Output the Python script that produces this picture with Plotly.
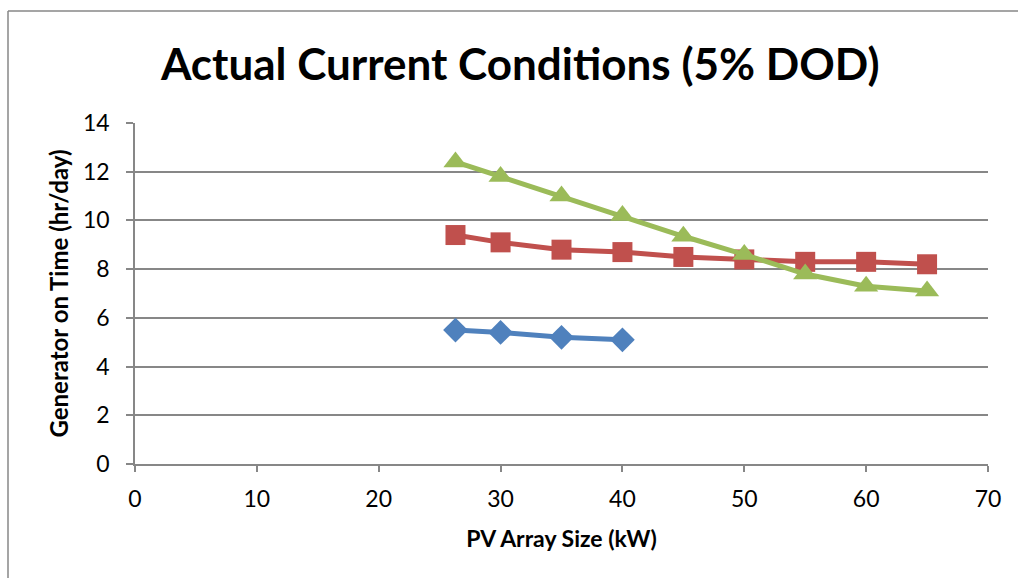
import plotly.graph_objects as go

pv_blue = [26.3, 30, 35, 40]
gen_blue = [5.5, 5.4, 5.2, 5.1]
pv_all = [26.3, 30, 35, 40, 45, 50, 55, 60, 65]
gen_red = [9.4, 9.1, 8.8, 8.7, 8.5, 8.4, 8.3, 8.3, 8.2]
gen_green = [12.4, 11.8, 11.0, 10.2, 9.35, 8.6, 7.8, 7.3, 7.1]

FONT = "Lato"

fig = go.Figure()
fig.add_trace(go.Scatter(x=pv_blue, y=gen_blue, mode="lines+markers",
                         line=dict(color="#4F81BD", width=5),
                         marker=dict(symbol="diamond", size=19, color="#4F81BD")))
fig.add_trace(go.Scatter(x=pv_all, y=gen_red, mode="lines+markers",
                         line=dict(color="#C0504D", width=5),
                         marker=dict(symbol="square", size=20, color="#C0504D")))
fig.add_trace(go.Scatter(x=pv_all, y=gen_green, mode="lines+markers",
                         line=dict(color="#9BBB59", width=5),
                         marker=dict(symbol="triangle-up", size=21, color="#9BBB59")))

fig.update_layout(
    width=1018, height=578,
    margin=dict(l=135, r=30, t=123, b=114),
    paper_bgcolor="white", plot_bgcolor="white",
    showlegend=False,
    font=dict(family=FONT, color="black"),
    title=dict(text="<b>Actual Current Conditions (5% DOD)</b>",
               font=dict(size=44, family=FONT, color="black"),
               x=0.511, xanchor="center", y=0.888, yanchor="middle"),
    xaxis=dict(range=[0, 70], tickvals=list(range(0, 71, 10)),
               showgrid=False, zeroline=False,
               showline=True, linecolor="#878787", linewidth=1.5,
               ticks="outside", ticklen=6, tickcolor="#878787", tickwidth=1.5,
               ticklabelstandoff=8,
               tickfont=dict(size=23, family=FONT),
               title=dict(text="<b>PV Array Size (kW)</b>", font=dict(size=23, family=FONT), standoff=20)),
    yaxis=dict(range=[0, 14], tickvals=list(range(0, 15, 2)),
               showgrid=True, gridcolor="#878787", gridwidth=1.5,
               zeroline=False,
               showline=True, linecolor="#878787", linewidth=1.5,
               ticks="outside", ticklen=7, tickcolor="#878787", tickwidth=1.5,
               ticklabelstandoff=12,
               tickfont=dict(size=23, family=FONT),
               title=dict(text="<b>Generator on Time (hr/day)</b>", font=dict(size=24, family=FONT), standoff=8)),
    shapes=[
        dict(type="line", xref="paper", yref="paper",
             x0=-127/853, x1=2, y0=1 + 112/341, y1=1 + 112/341,
             line=dict(color="#878787", width=1.5), layer="below"),
        dict(type="line", xref="paper", yref="paper",
             x0=-127/853, x1=-127/853, y0=-1, y1=1 + 112/341,
             line=dict(color="#878787", width=1.5), layer="below"),
    ],
)

fig.write_html("out.html", config={"displayModeBar": False})
